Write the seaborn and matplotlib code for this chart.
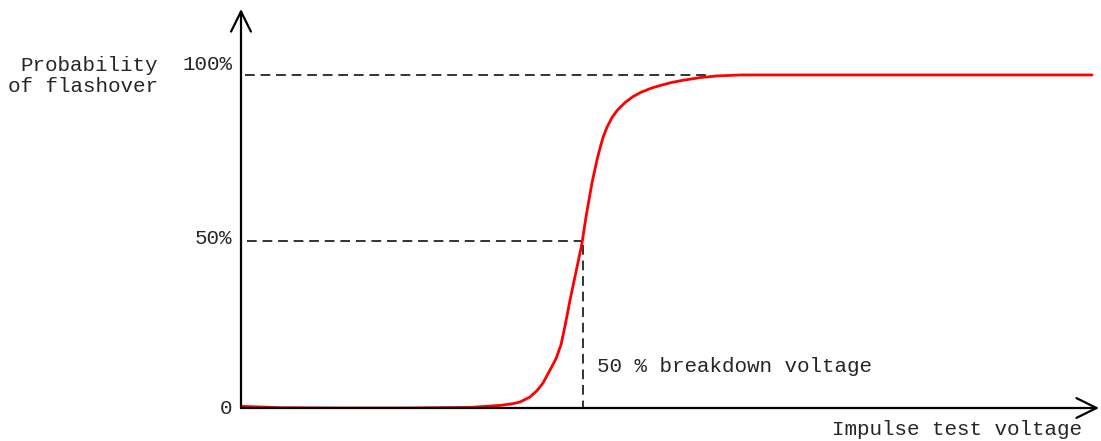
import numpy as np
import pandas as pd
import matplotlib
matplotlib.use('Agg')
import matplotlib.pyplot as plt
import seaborn as sns

# curve (x in arbitrary voltage units, y = probability)
voltage = [0.0, 0.4, 1.0, 1.6, 2.3, 2.45, 2.6, 2.72, 2.79, 2.89, 2.96, 3.02, 3.09, 3.15,
           3.20, 3.24, 3.29, 3.36, 3.41, 3.45, 3.51, 3.56, 3.59, 3.62, 3.66, 3.71, 3.76,
           3.84, 3.92, 4.0, 4.1, 4.2, 4.3, 4.42, 4.59, 4.76, 5.0, 6.5, 8.51]
probability = [0.005, 0.001, 0.0, 0.0, 0.002, 0.005, 0.008, 0.013, 0.018, 0.033, 0.052, 0.075,
               0.114, 0.148, 0.19, 0.246, 0.324, 0.423, 0.495, 0.574, 0.676, 0.745, 0.78,
               0.812, 0.843, 0.872, 0.893, 0.917, 0.935, 0.948, 0.96, 0.969, 0.977, 0.984,
               0.992, 0.997, 1.0, 1.0, 1.0]

v50 = 3.40
tick_vals = [0, 0.5, 1.0]
tick_labels = ['0', '50%', '100%']

df = pd.DataFrame({'voltage': voltage, 'probability': probability})

sns.set_style('white')
plt.rcParams['font.family'] = ['Liberation Mono', 'DejaVu Sans']

fig = plt.figure(figsize=(11.01, 4.41), dpi=100)
ax = fig.add_axes([241 / 1101, 33 / 441, (1099 - 241) / 1101, (408 - 9) / 441])
ax.set_xlim(0, 8.58)
ax.set_ylim(0, 1.198)
for s in ax.spines.values():
    s.set_visible(False)
ax.set_xticks([])
ax.set_yticks([])

# dashed guide lines
dash = dict(color='#333333', lw=1.4, ls=(0, (5, 3)), zorder=1)
ax.plot([0.04, 4.7], [1.0, 1.0], **dash)
ax.plot([0.06, v50], [0.5, 0.5], **dash)
ax.plot([v50 + 0.02, v50 + 0.02], [0.49, 0.0], **dash)

sns.lineplot(data=df, x='voltage', y='probability', color='red', lw=2, ax=ax, zorder=3)
ax.set_xlabel('')
ax.set_ylabel('')

# axes with open arrow heads
arr = dict(arrowstyle='->,head_length=0.85,head_width=0.42', color='black', lw=1.6,
           mutation_scale=17, shrinkA=0, shrinkB=0)
ax.annotate('', xy=(0, 1.0), xycoords='axes fraction', xytext=(0, 0),
            textcoords='axes fraction', arrowprops=arr, annotation_clip=False)
ax.annotate('', xy=(1.0, 0), xycoords='axes fraction', xytext=(0, 0),
            textcoords='axes fraction', arrowprops=arr, annotation_clip=False)

fs = 15
tick_y = [0.0, 0.51, 1.03]
for yy, lab in zip(tick_y, tick_labels):
    ax.text(-0.09, yy, lab, ha='right', va='center', fontsize=fs)

ax.text(-0.83, 1.027, 'Probability', ha='right', va='center', fontsize=fs)
ax.text(-0.83, 0.965, 'of flashover', ha='right', va='center', fontsize=fs)
ax.text(v50 + 0.16, 0.126, '50 % breakdown voltage', ha='left', va='center', fontsize=fs)
ax.text(8.41, -0.066, 'Impulse test voltage', ha='right', va='center', fontsize=fs)

fig.savefig('out.png', dpi=100)
